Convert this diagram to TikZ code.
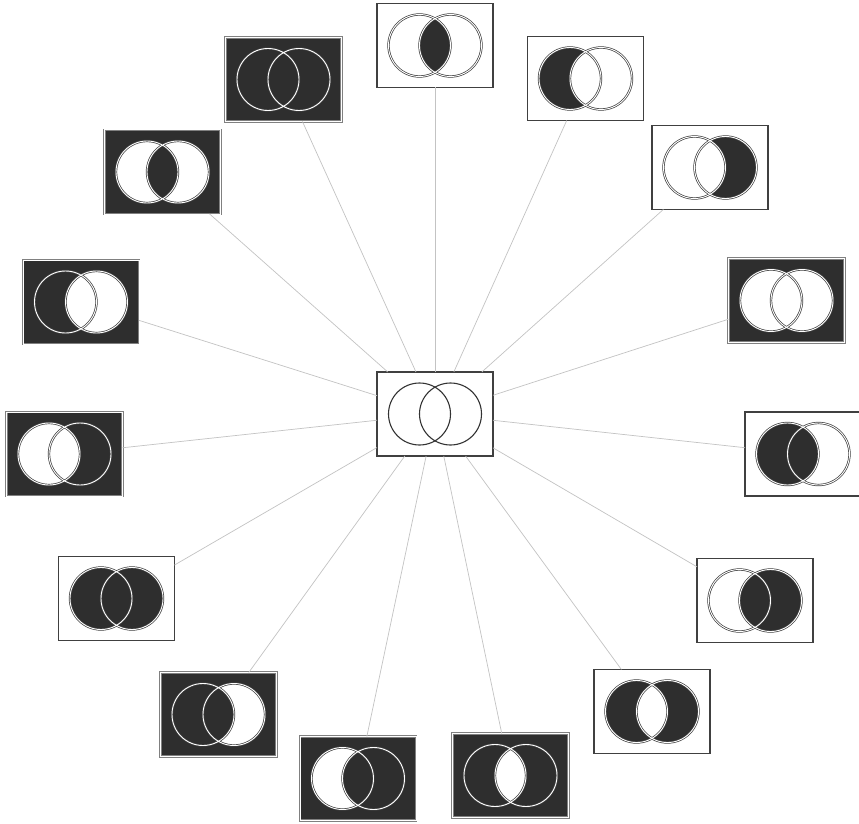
\documentclass[tikz,border=0pt]{standalone}
\definecolor{dk}{RGB}{46,46,46}
\definecolor{ln}{RGB}{195,195,195}
\tikzset{
  wbox/.style={rectangle, minimum width=116pt, minimum height=84pt, inner sep=0pt, outer sep=0pt, draw=black!75, line width=1.4pt},
  dbox/.style={rectangle, minimum width=116pt, minimum height=84pt, inner sep=0pt, outer sep=0pt, draw=black!50, line width=0.8pt, double=white, double distance=1pt},
  ring/.style={draw=black!75, line width=0.7pt, double=white, double distance=0.9pt},
  plainring/.style={draw=black!80, line width=1.1pt},
  conn/.style={draw=ln, line width=0.7pt}
}
\newcommand\vb[9]{%
  \node[#8, fill=#4] (#1) at (#2,#3) {};
  \begin{scope}[shift={(#2,#3)}]
    \fill[#5] (-15.5,0) circle[radius=31];
    \fill[#6] (15.5,0) circle[radius=31];
    \begin{scope}
      \clip (-15.5,0) circle[radius=31];
      \fill[#7] (15.5,0) circle[radius=31];
    \end{scope}
    \draw[#9] (-15.5,0) circle[radius=31] (15.5,0) circle[radius=31];
  \end{scope}}
\begin{document}
\begin{tikzpicture}[x=1pt,y=-1pt]
\useasboundingbox[fill=white] (0,0) rectangle (859,824);
\vb{c}{435}{414}{white}{white}{white}{white}{wbox}{plainring}
\vb{b1}{435}{45.5}{white}{white}{white}{dk}{wbox}{ring}
\vb{b2}{585.5}{78.5}{white}{dk}{white}{white}{wbox}{ring}
\vb{b3}{710}{167.5}{white}{white}{dk}{white}{wbox}{ring}
\vb{b4}{786.5}{300.5}{dk}{white}{white}{white}{dbox}{ring}
\vb{b5}{803}{454}{white}{dk}{white}{dk}{wbox}{ring}
\vb{b6}{755}{600.5}{white}{white}{dk}{dk}{wbox}{ring}
\vb{b7}{652}{711.5}{white}{dk}{dk}{white}{wbox}{ring}
\vb{b8}{510.5}{775.5}{dk}{dk}{dk}{white}{dbox}{ring}
\vb{b9}{358}{778.5}{dk}{white}{dk}{dk}{dbox}{ring}
\vb{b10}{218.5}{714.5}{dk}{dk}{white}{dk}{dbox}{ring}
\vb{b11}{116.5}{598.5}{white}{dk}{dk}{dk}{wbox}{ring}
\vb{b12}{64.5}{454}{dk}{white}{dk}{white}{dbox}{ring}
\vb{b13}{81}{302}{dk}{dk}{white}{white}{dbox}{ring}
\vb{b14}{162.5}{172}{dk}{white}{white}{dk}{dbox}{ring}
\vb{b15}{283.5}{79.5}{dk}{dk}{dk}{dk}{dbox}{ring}
\foreach \i in {1,...,15} {\draw[conn] (c) -- (b\i);}
\end{tikzpicture}
\end{document}
